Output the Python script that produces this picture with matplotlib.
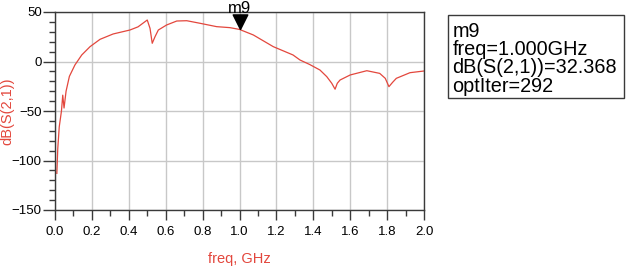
import numpy as np
import matplotlib.pyplot as plt
from matplotlib.patches import Rectangle

# values
freq = [0.01, 0.015, 0.023, 0.035, 0.042, 0.049, 0.06, 0.078, 0.108, 0.145,
        0.19, 0.244, 0.315, 0.406, 0.45, 0.50, 0.515, 0.527, 0.542, 0.56,
        0.605, 0.66, 0.714, 0.786, 0.876, 0.948, 1.0, 1.075, 1.183, 1.29,
        1.328, 1.38, 1.436, 1.473, 1.50, 1.518, 1.53, 1.545, 1.6, 1.69,
        1.76, 1.79, 1.81, 1.83, 1.85, 1.924, 2.0]
s21 = [-113, -88, -66, -50, -34, -47, -30, -15, -3.5, 6.6,
       15, 22.4, 27.8, 31.8, 35, 41.9, 33.5, 18.4, 25, 31.8,
       36.9, 40.9, 41.2, 38.6, 35.2, 34.2, 32.4, 26.8, 15, 6.6,
       1.5, -3.0, -8.6, -15.3, -22, -28, -22, -18.7, -13.6, -9.3,
       -12, -17, -25.4, -21, -17, -11.3, -9.6]

marker_name = "m9"
marker_freq = 1.0
marker_val = 32.368
marker_lines = ["m9", "freq=1.000GHz", "dB(S(2,1))=32.368", "optIter=292"]

xticks = np.arange(0, 2.01, 0.2)
yticks = [-150, -100, -50, 0, 50]

plt.rcParams['font.family'] = ['Liberation Sans', 'DejaVu Sans']

red = '#e3473d'
axcol = '#3a3a3a'
W, H = 628, 274

fig = plt.figure(figsize=(W/100, H/100), dpi=100)
ax = fig.add_axes([55/W, 64/H, 369/W, 198/H])

ax.plot(freq, s21, color=red, linewidth=0.9)

ax.set_xlim(0, 2.0)
ax.set_ylim(-150, 50)
ax.set_xticks(xticks)
ax.set_xticklabels(['%.1f' % t for t in xticks])
ax.set_xticks(np.arange(0.1, 2.0, 0.2), minor=True)
ax.set_yticks(yticks)
ax.set_yticks([v for v in range(-150, 51, 10) if v % 50 != 0], minor=True)

ax.grid(True, which='major', color='#c8c8c8', linewidth=1.0)
ax.set_axisbelow(True)
for s in ax.spines.values():
    s.set_color(axcol)
    s.set_linewidth(1.0)
ax.tick_params(which='major', direction='out', width=1.0, color=axcol,
               labelsize=9.5)
ax.tick_params(axis='y', which='major', length=8.5, pad=1)
ax.tick_params(axis='x', which='major', length=7.5, pad=4)
ax.tick_params(which='minor', direction='out', length=4.5, width=1.0, color=axcol)
ax.tick_params(axis='x', which='both', top=False)
ax.tick_params(axis='y', which='both', right=False)

ax.set_xlabel('freq, GHz', color=red, fontsize=10.5)
ax.xaxis.set_label_coords(0.5, -42/198)
ax.set_ylabel('dB(S(2,1))', color=red, fontsize=10.5)
ax.yaxis.set_label_coords(-41/369, 0.5)

# marker triangle with tip on the curve
tri = [(0, 0), (-0.5, 1), (0.5, 1), (0, 0)]
ax.plot([marker_freq], [marker_val], marker=tri, markersize=21,
        color='black', linestyle='none', clip_on=False, zorder=5)
ax.annotate(marker_name, xy=(marker_freq, marker_val), xytext=(0, 12),
            textcoords='offset points', ha='center', va='baseline',
            fontsize=12, annotation_clip=False)

# marker readout box
fig.patches.append(Rectangle((448/W, 1 - 97.5/H), 176/W, 83/H,
                             transform=fig.transFigure, facecolor='white',
                             edgecolor=axcol, linewidth=1.0))
for i, line in enumerate(marker_lines):
    fig.text(452.5/W, 1 - (36.7 + 18.3*i)/H, line, ha='left', va='baseline',
             fontsize=14.3)

fig.savefig('out.png', dpi=100)
